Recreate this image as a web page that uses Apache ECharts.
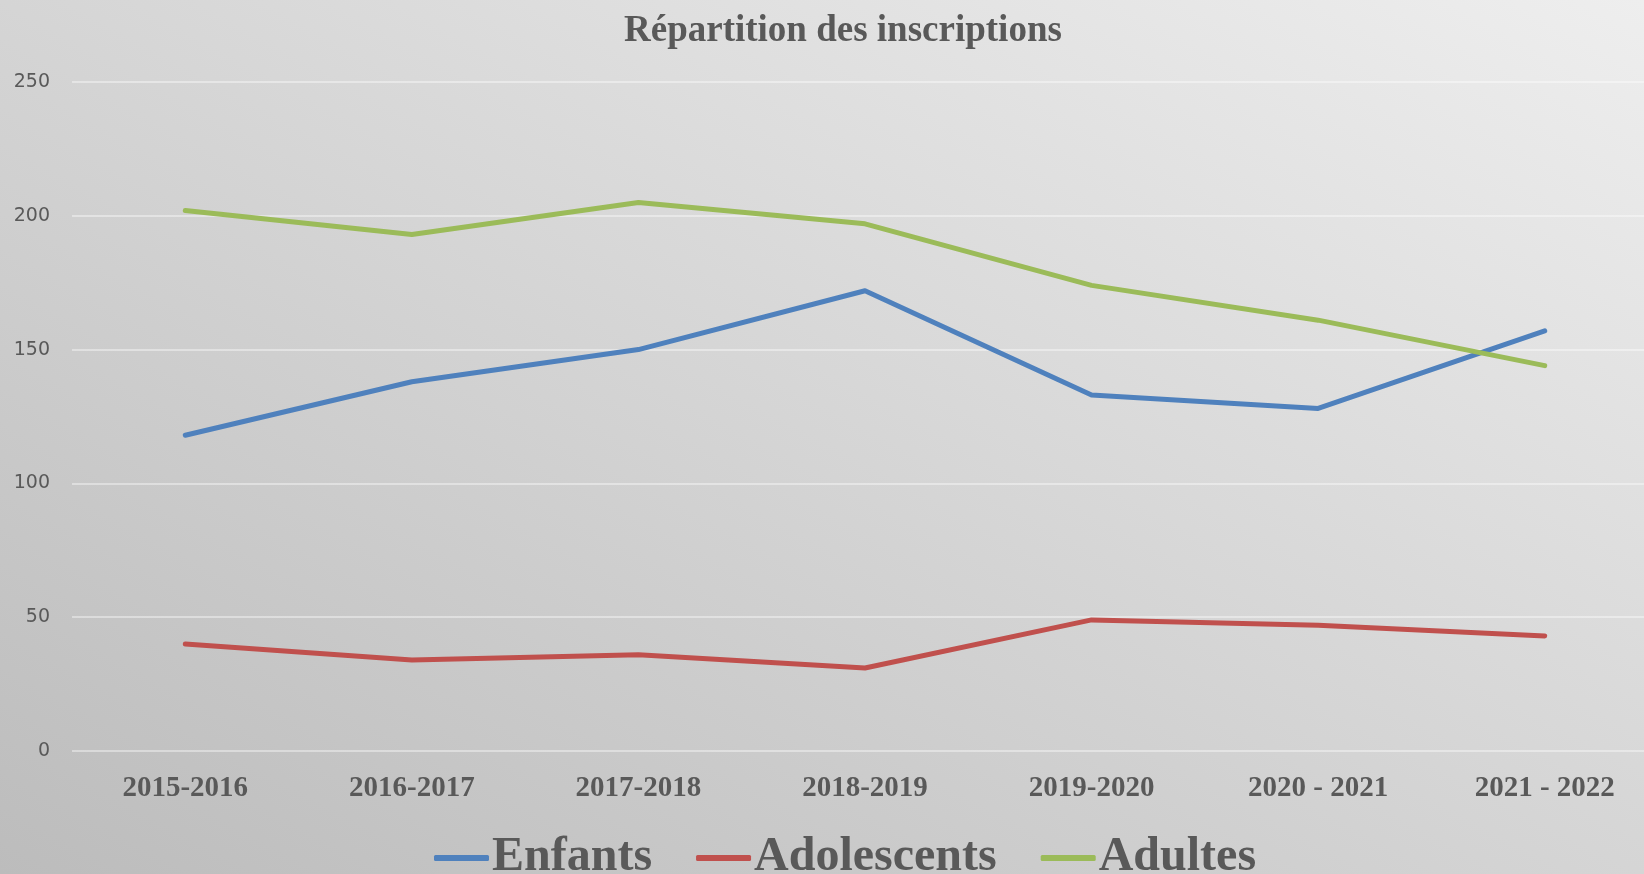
<!DOCTYPE html>
<html lang="fr" style="height: 100%">
<head>
  <meta charset="utf-8">
</head>
<body style="height: 100%; margin: 0; overflow: hidden; background: linear-gradient(to top right, #bcbcbc, #eeeeee);">
  <div id="container" style="width: 1660px; height: 874px"></div>

  <script type="text/javascript" src="https://cdn.jsdelivr.net/npm/echarts@6/dist/echarts.min.js"></script>
  <script type="text/javascript">
    var years = ['2015-2016', '2016-2017', '2017-2018', '2018-2019', '2019-2020', '2020 - 2021', '2021 - 2022'];
    var enfants = [118, 138, 150, 172, 133, 128, 157];
    var adolescents = [40, 34, 36, 31, 49, 47, 43];
    var adultes = [202, 193, 205, 197, 174, 161, 144];

    var serif = '"Liberation Serif", "DejaVu Serif", serif';
    var grey = '#595959';

    var dom = document.getElementById('container');
    var myChart = echarts.init(dom, null, { renderer: 'canvas' });

    function line(name, data, color) {
      return {
        name: name,
        type: 'line',
        data: data,
        symbol: 'none',
        smooth: false,
        color: color,
        lineStyle: { width: 5, color: color, cap: 'round', join: 'round' }
      };
    }

    var option = {
      backgroundColor: 'transparent',
      animation: false,
      title: {
        text: 'Répartition des inscriptions',
        left: 619,
        top: 8,
        textStyle: { fontFamily: serif, fontWeight: 'bold', fontSize: 37, color: grey }
      },
      legend: {
        left: 429,
        top: 826,
        icon: 'roundRect',
        itemWidth: 55,
        itemHeight: 6,
        itemGap: 44,
        textStyle: { fontFamily: serif, fontWeight: 'bold', fontSize: 48, lineHeight: 54, color: grey, padding: [0, 0, 0, -2] },
        data: ['Enfants', 'Adolescents', 'Adultes']
      },
      grid: { left: 72, top: 82, right: 2, height: 669, containLabel: false },
      xAxis: {
        type: 'category',
        data: years,
        boundaryGap: true,
        axisLine: { show: false },
        axisTick: { show: false },
        axisLabel: { margin: 23, fontFamily: serif, fontWeight: 'bold', fontSize: 29, color: grey, interval: 0 }
      },
      yAxis: {
        type: 'value',
        min: 0,
        max: 250,
        interval: 50,
        axisLine: { show: false },
        axisTick: { show: false },
        axisLabel: { margin: 22, fontFamily: '"DejaVu Sans", sans-serif', fontSize: 19, color: grey },
        splitLine: { lineStyle: { color: 'rgba(255,255,255,0.4)', width: 2 } }
      },
      series: [
        line('Enfants', enfants, '#4f81bd'),
        line('Adolescents', adolescents, '#c0504d'),
        line('Adultes', adultes, '#9bbb59')
      ]
    };

    myChart.setOption(option);
    window.addEventListener('resize', myChart.resize);
  </script>
</body>
</html>
